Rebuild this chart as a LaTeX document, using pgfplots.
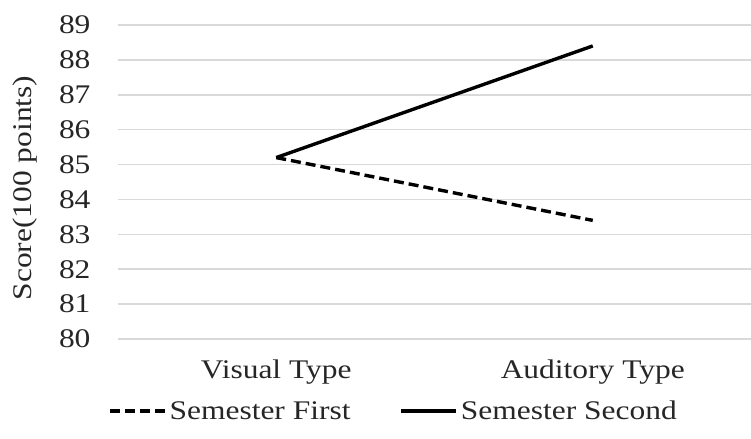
\documentclass[border=0pt]{standalone}
\usepackage{pgfplots}
\pgfplotsset{compat=1.18}
\usepackage{fontspec}
\setmainfont{Liberation Serif}[FakeStretch=1.17]
\definecolor{gridgray}{HTML}{D9D9D9}
\definecolor{txt}{HTML}{262626}
\begin{document}
\begin{tikzpicture}
\useasboundingbox (-118bp,-100bp) rectangle (633bp,339bp);
\begin{axis}[
  at={(0,0)}, anchor=south west,
  scale only axis, width=633bp, height=314bp,
  xmin=-0.5, xmax=1.5, ymin=80, ymax=89,
  xtick={0,1}, xticklabels={Visual Type, Auditory Type},
  ytick={80,81,...,89},
  ymajorgrids,
  grid style={gridgray, line width=1.5bp},
  axis line style={draw=none},
  major tick length=0pt,
  /pgf/number format/assume math mode=true,
  tick label style={font=\fontsize{27}{30}\selectfont, text=txt},
  yticklabel style={xshift=-24bp},
  xticklabel style={yshift=-17bp},
  ylabel={Score(100 points)},
  every axis y label/.style={at={(axis description cs:0,0.5)}, xshift=-93bp, yshift=-6bp, rotate=90, anchor=center, font=\fontsize{27}{30}\selectfont, text=txt},
  legend columns=2,
  legend style={at={(axis description cs:0,0)}, anchor=west, xshift=-13bp, yshift=-72bp, draw=none, fill=none, font=\fontsize{27}{30}\selectfont, text=txt,
    /tikz/every even column/.append style={column sep=46bp},
    nodes={inner xsep=3bp}},
  legend image code/.code={\draw[#1] (0bp,0bp) -- (55bp,0bp);},
]
\addplot[black, line width=3.4bp, dash pattern=on 10bp off 5bp] coordinates {(0,85.2) (1,83.4)};
\addlegendentry{Semester First}
\addplot[black, line width=3.4bp] coordinates {(0,85.2) (1,88.4)};
\addlegendentry{Semester Second}
\end{axis}
\end{tikzpicture}
\end{document}
